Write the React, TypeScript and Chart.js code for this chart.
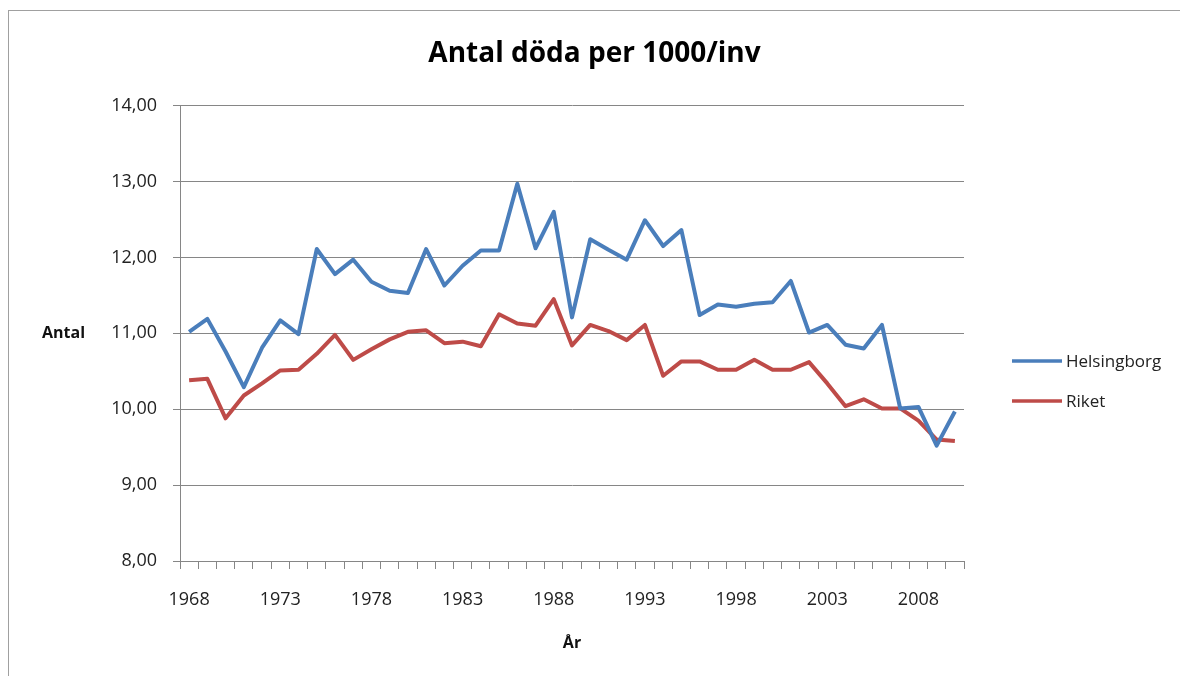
import React, { useEffect, useRef } from "react";
import { Chart, registerables } from "chart.js";

Chart.register(...registerables);

const years: string[] = [
  "1968", "1969", "1970", "1971", "1972", "1973", "1974", "1975", "1976", "1977",
  "1978", "1979", "1980", "1981", "1982", "1983", "1984", "1985", "1986", "1987",
  "1988", "1989", "1990", "1991", "1992", "1993", "1994", "1995", "1996", "1997",
  "1998", "1999", "2000", "2001", "2002", "2003", "2004", "2005", "2006", "2007",
  "2008", "2009", "2010",
];

const helsingborg: number[] = [
  11.02, 11.19, 10.76, 10.29, 10.81, 11.17, 10.99, 12.11, 11.78, 11.97,
  11.68, 11.56, 11.53, 12.11, 11.63, 11.89, 12.09, 12.09, 12.97, 12.12,
  12.6, 11.21, 12.24, 12.1, 11.97, 12.49, 12.15, 12.36, 11.24, 11.38,
  11.35, 11.39, 11.41, 11.69, 11.01, 11.11, 10.85, 10.8, 11.11, 10.01,
  10.03, 9.52, 9.97,
];

const riket: number[] = [
  10.38, 10.4, 9.88, 10.18, 10.34, 10.51, 10.52, 10.73, 10.98, 10.65,
  10.79, 10.92, 11.02, 11.04, 10.87, 10.89, 10.83, 11.25, 11.13, 11.1,
  11.45, 10.84, 11.11, 11.03, 10.91, 11.11, 10.44, 10.63, 10.63, 10.52,
  10.52, 10.65, 10.52, 10.52, 10.62, 10.34, 10.04, 10.13, 10.01, 10.01,
  9.85, 9.6, 9.58,
];

const xTickLabels: string[] = ["1968", "1973", "1978", "1983", "1988", "1993", "1998", "2003", "2008"];

const seriesNames: string[] = ["Helsingborg", "Riket"];
const seriesColors: string[] = ["#4A7EBB", "#BE4B48"];

const titleText = "Antal döda per 1000/inv";
const yTitleText = "Antal";
const xTitleText = "År";

const FONT = "'Open Sans', 'DejaVu Sans', sans-serif";

const sideLabels = {
  id: "sideLabels",
  afterDraw(chart: any) {
    const ctx = chart.ctx;
    ctx.save();
    // y-axis title (horizontal, like Excel)
    ctx.font = `bold 16px ${FONT}`;
    ctx.fillStyle = "#111";
    ctx.textAlign = "left";
    ctx.textBaseline = "middle";
    ctx.fillText(yTitleText, 33, 322);
    // legend
    const lx = 1003;
    const ys = [350, 390];
    ctx.font = `17px ${FONT}`;
    seriesNames.forEach((name, i) => {
      ctx.strokeStyle = seriesColors[i];
      ctx.lineWidth = 3.5;
      ctx.beginPath();
      ctx.moveTo(lx, ys[i]);
      ctx.lineTo(lx + 50, ys[i]);
      ctx.stroke();
      ctx.fillStyle = "#222";
      ctx.fillText(name, lx + 54, ys[i] + 1);
    });
    ctx.restore();
  },
};

export default function App() {
  const ref = useRef<HTMLCanvasElement | null>(null);

  useEffect(() => {
    if (!ref.current) return;
    const chart = new Chart(ref.current, {
      type: "line",
      data: {
        labels: years,
        datasets: [
          {
            label: seriesNames[0],
            data: helsingborg,
            borderColor: seriesColors[0],
            backgroundColor: seriesColors[0],
            borderWidth: 4,
            pointRadius: 0,
            tension: 0,
            borderJoinStyle: "round",
          },
          {
            label: seriesNames[1],
            data: riket,
            borderColor: seriesColors[1],
            backgroundColor: seriesColors[1],
            borderWidth: 4,
            pointRadius: 0,
            tension: 0,
            borderJoinStyle: "round",
          },
        ],
      },
      options: {
        responsive: false,
        animation: false,
        layout: { padding: 0 },
        plugins: {
          legend: { display: false },
          tooltip: { enabled: false },
          title: {
            display: true,
            text: titleText,
            color: "#000",
            font: { family: FONT, size: 28, weight: "bold" },
            padding: { top: 26, bottom: 35 },
          },
        },
        scales: {
          x: {
            type: "category",
            offset: true,
            afterFit(scale: any) {
              scale.height = 115;
            },
            grid: {
              offset: true,
              drawOnChartArea: false,
              drawTicks: true,
              tickLength: 8,
              color: "#868686",
            },
            border: { color: "#868686", width: 1 },
            ticks: {
              autoSkip: false,
              maxRotation: 0,
              minRotation: 0,
              padding: 20,
              color: "#222",
              font: { family: FONT, size: 18 },
              callback: (_v: any, i: number) => (xTickLabels.includes(years[i]) ? years[i] : ""),
            },
            title: {
              display: true,
              text: xTitleText,
              color: "#111",
              font: { family: FONT, size: 16, weight: "bold" },
              padding: { top: 0, bottom: 23 },
            },
          },
          y: {
            min: 8,
            max: 14,
            afterFit(scale: any) {
              scale.width = 171;
            },
            grid: {
              color: "#868686",
              lineWidth: 1,
              tickLength: 7,
              drawTicks: true,
            },
            border: { color: "#868686", width: 1 },
            ticks: {
              stepSize: 1,
              padding: 16,
              color: "#222",
              font: { family: FONT, size: 18 },
              callback: (v: any) => Number(v).toFixed(2).replace(".", ","),
            },
          },
          legendSpace: {
            type: "linear",
            position: "right",
            display: true,
            min: 8,
            max: 14,
            afterFit(scale: any) {
              scale.width = 216;
            },
            grid: { display: false, drawTicks: false },
            border: { display: false },
            ticks: { display: false },
          },
        },
      },
      plugins: [sideLabels],
    });
    return () => chart.destroy();
  }, []);

  return (
    <div
      style={{
        position: "fixed",
        left: 8,
        top: 10,
        width: 1171,
        height: 665,
        borderLeft: "1px solid #a0a0a0",
        borderTop: "1px solid #a0a0a0",
        background: "#fff",
      }}
    >
      <canvas ref={ref} width={1171} height={665} style={{ display: "block" }} />
    </div>
  );
}
